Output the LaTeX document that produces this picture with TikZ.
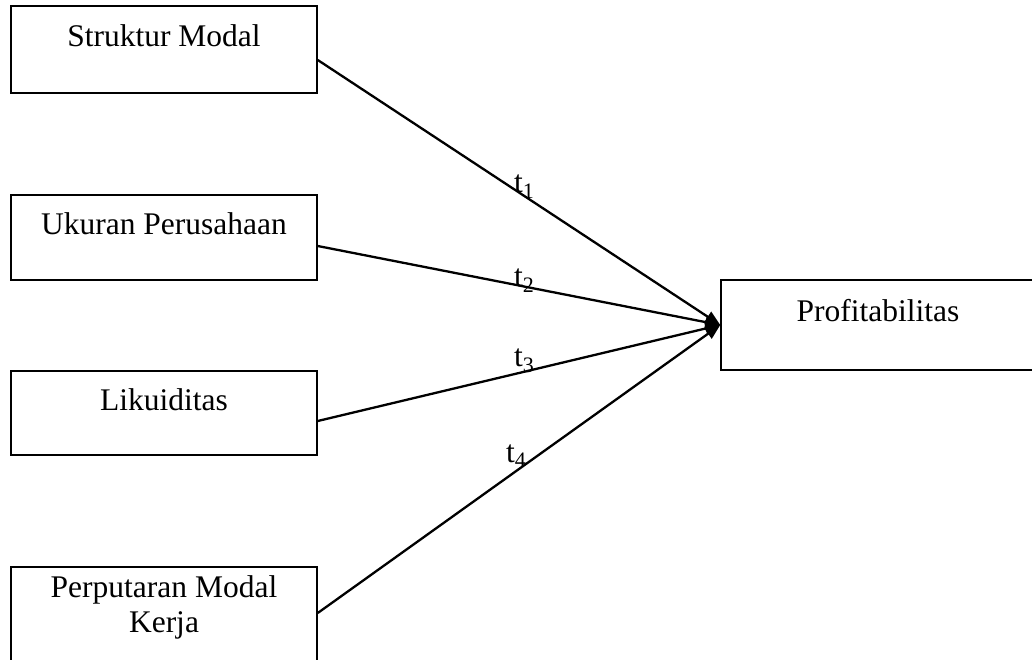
\documentclass[tikz,border=0pt]{standalone}
\usepackage{fontspec}
\setmainfont{Liberation Serif}
\usetikzlibrary{arrows.meta}
\tikzset{
  box/.style={draw, line width=1.5pt, inner sep=0pt, rectangle},
  lbl/.style={inner sep=0pt, anchor=base, font=\fontsize{31.5}{35}\selectfont},
  conn/.style={line width=2.3pt, -{Triangle[length=15pt,width=12pt]}},
}
\begin{document}
\begin{tikzpicture}[x=1pt,y=-1pt]
\useasboundingbox (0,0) rectangle (1032,660);
% boxes
\node[box, minimum width=306pt, minimum height=87pt] (b1) at (164,49.5) {};
\node[box, minimum width=306pt, minimum height=85pt] (b2) at (164,237.5) {};
\node[box, minimum width=306pt, minimum height=84pt] (b3) at (164,413) {};
\node[box, minimum width=306pt, minimum height=140pt] (b4) at (164,637) {};
\node[box, minimum width=340pt, minimum height=90pt] (p) at (891,325) {};
% texts
\node[lbl] (l1) at (164,46.7) {Struktur Modal};
\node[lbl] (l2) at (164,234) {Ukuran Perusahaan};
\node[lbl] (l3) at (164,410) {Likuiditas};
\node[lbl] (l4) at (164,597) {Perputaran Modal};
\node[lbl] (l4b) at (164,632) {Kerja};
\node[lbl] (lp) at (878,321) {Profitabilitas};
% connectors
\draw[conn] ([yshift=-10.5pt]b1.east) -- (p.west);
\draw[conn] ([yshift=-8.5pt]b2.east) -- (p.west);
\draw[conn] ([yshift=-8pt]b3.east) -- (p.west);
\draw[conn] ([yshift=24pt]b4.east) -- (p.west);
% labels
\node[lbl, anchor=base west] (t1) at (514,193) {t\textsubscript{1}};
\node[lbl, anchor=base west] (t2) at (514,286) {t\textsubscript{2}};
\node[lbl, anchor=base west] (t3) at (514,366) {t\textsubscript{3}};
\node[lbl, anchor=base west] (t4) at (506,462) {t\textsubscript{4}};
\end{tikzpicture}
\end{document}
